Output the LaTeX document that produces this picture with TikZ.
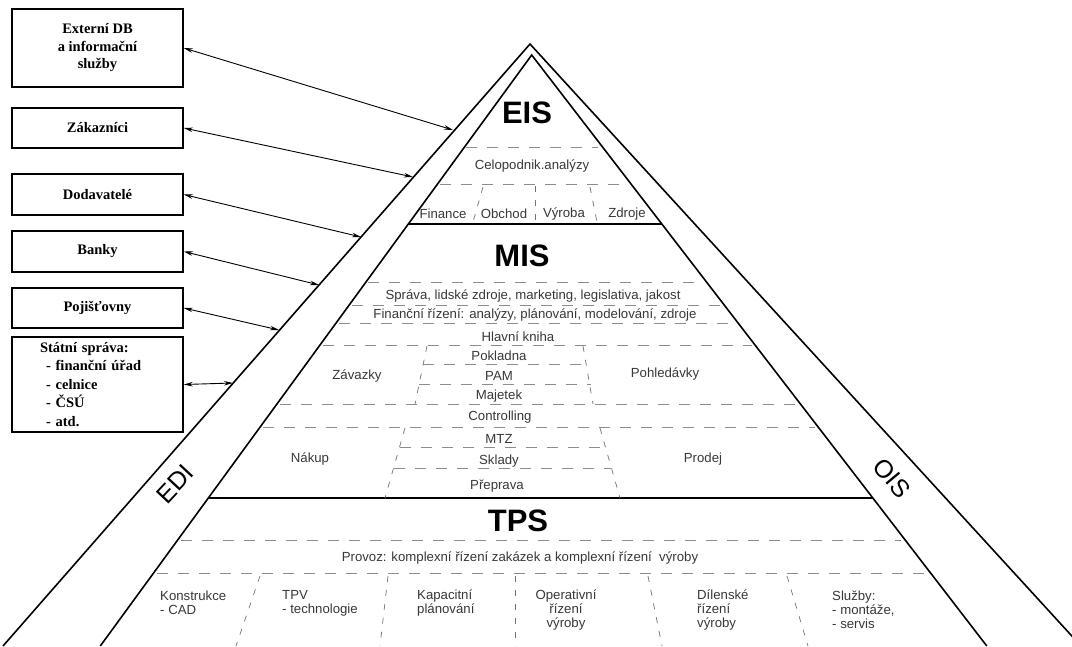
\documentclass[tikz,border=0pt]{standalone}
\usepackage{fontspec}
\setmainfont{Liberation Sans}
\newfontfamily\serifbx{Liberation Serif}
\usetikzlibrary{arrows.meta}
\begin{document}
\begin{tikzpicture}[x=1pt,y=-1pt,
  edge/.style={line width=1.6pt,black},
  sepline/.style={line width=1.8pt,black},
  dsh/.style={black!45,line width=0.8pt,dash pattern=on 11pt off 10pt},
  dsep/.style={black!55,line width=0.7pt,dash pattern=on 6pt off 8pt},
  lbl/.style={font=\fontsize{13.2}{14}\selectfont,text=black!78,inner sep=0pt},
  head/.style={font=\fontsize{31}{31}\selectfont\bfseries,inner sep=0pt},
  side/.style={font=\fontsize{25}{25}\selectfont,inner sep=0pt},
  bx/.style={draw,line width=1.5pt,minimum width=171pt,font=\serifbx\bfseries\fontsize{14.5}{17.5}\selectfont,align=center,inner sep=2pt},
  link/.style={line width=0.9pt,{Stealth[length=9pt,width=4.5pt]}-{Stealth[length=9pt,width=4.5pt]}}
]
\useasboundingbox (0,0) rectangle (1072,646);
\fill[white] (0,0) rectangle (1072,646);

% pyramid outlines
\coordinate (A) at (530,44);
\coordinate (OL) at (3,646);
\coordinate (OR) at (1081,646);
\coordinate (B) at (531.7,55);
\coordinate (IL) at (100.3,646);
\coordinate (IR) at (986.8,646);
\draw[edge] (OL) -- (A) -- (OR);
\draw[edge] (IL) -- (B) -- (IR);

% section lines
\draw[sepline] (408.3,224) -- (661.8,224);
\draw[sepline] (208.3,498) -- (872.8,498);

% EIS dashed
\draw[dsh] (466,147) -- (598,147);
\draw[dsh] (440,184) -- (628,184);
\draw[dsep] (483,187) -- (473,222);
\draw[dsep] (535,186) -- (535,222);
\draw[dsep] (590,187) -- (597,222);

% MIS dashed
\draw[dsh] (368,282) -- (703,282);
\draw[dsh] (352,305) -- (721,305);
\draw[dsh] (339,323) -- (735,323);
\draw[dsh] (323,345) -- (752,345);
\draw[dsh] (423,364) -- (587,364);
\draw[dsh] (419,384) -- (591,384);
\draw[dsh] (280,404) -- (797,404);
\draw[dsh] (263,427) -- (815,427);
\draw[dsh] (400,447) -- (605,447);
\draw[dsh] (394,468) -- (611,468);
\draw[dsep] (427,346) -- (415,404);
\draw[dsep] (583,346) -- (593,404);
\draw[dsep] (405,428) -- (385,498);
\draw[dsep] (600,428) -- (620,498);

% TPS dashed
\draw[dsh] (181,540) -- (901,540);
\draw[dsh] (157,573) -- (927,573);
\draw[dsep] (260,576) -- (236,646);
\draw[dsep] (388,576) -- (380,646);
\draw[dsep] (515,576) -- (515,646);
\draw[dsep] (648,576) -- (662,646);
\draw[dsep] (787,576) -- (808,646);

% headings
\node[head] (eis) at (527,113) {EIS};
\node[head] (mis) at (522,256) {MIS};
\node[head] (tps) at (518,521) {TPS};
\node[side,rotate=47] (edi) at (175,484) {EDI};
\node[side,rotate=-50] (ois) at (892,478) {OIS};

% EIS labels
\node[lbl] (celo) at (532,166) {Celopodnik.analýzy};
\node[lbl] (fin) at (443,214) {Finance};
\node[lbl] (obch) at (504,214) {Obchod};
\node[lbl] (vyr) at (564,214) {Výroba};
\node[lbl] (zdr) at (627,214) {Zdroje};

% MIS labels
\node[lbl] (sprava) at (533,296) {Správa, lidské zdroje, marketing, legislativa, jakost};
\node[lbl] (finr) at (535,315) {Finanční řízení: analýzy, plánování, modelování, zdroje};
\node[lbl] (hk) at (518,337) {Hlavní kniha};
\node[lbl] (pokl) at (499,356) {Pokladna};
\node[lbl] (zav) at (357,376) {Závazky};
\node[lbl] (pam) at (499,376) {PAM};
\node[lbl] (pohl) at (665,374) {Pohledávky};
\node[lbl] (maj) at (499,396) {Majetek};
\node[lbl] (contr) at (500,417) {Controlling};
\node[lbl] (mtz) at (499,439) {MTZ};
\node[lbl] (nak) at (310,459) {Nákup};
\node[lbl] (skl) at (499,461) {Sklady};
\node[lbl] (prod) at (703,459) {Prodej};
\node[lbl] (prep) at (497,486) {Přeprava};

% TPS labels
\node[lbl] (provoz) at (520,558) {Provoz: komplexní řízení zakázek a komplexní řízení \ výroby};
\node[lbl,align=left,anchor=west] (kons) at (160,603) {Konstrukce\\- CAD};
\node[lbl,align=left,anchor=west] (tpv) at (282,603) {TPV\\- technologie};
\node[lbl,align=left,anchor=west] (kap) at (417,603) {Kapacitní\\plánování};
\node[lbl,align=center] (oper) at (566,610) {Operativní\\řízení\\výroby};
\node[lbl,align=left,anchor=west] (dil) at (697,610) {Dílenské\\řízení\\výroby};
\node[lbl,align=left,anchor=west] (sluz) at (832,610) {Služby:\\- montáže,\\- servis};

% external boxes
\node[bx,minimum height=78pt] (b1) at (97.5,48) {Externí DB\\a informační\\služby};
\node[bx,minimum height=40pt] (b2) at (97.5,128) {Zákazníci};
\node[bx,minimum height=41pt] (b3) at (97.5,194.5) {Dodavatelé};
\node[bx,minimum height=41pt] (b4) at (97.5,251.5) {Banky};
\node[bx,minimum height=40pt] (b5) at (97.5,308) {Pojišťovny};
\node[bx,minimum height=95pt,align=left,text width=115pt,inner xsep=28pt,font=\serifbx\bfseries\fontsize{14.5}{18.5}\selectfont] (b6) at (97.5,384.5)
  {Státní správa:\\\hspace{6pt}- finanční úřad\\\hspace{6pt}- celnice\\\hspace{6pt}- ČSÚ\\\hspace{6pt}- atd.};

% arrow end points on the pyramid edge
\coordinate (p1) at (453,130);
\coordinate (p2) at (413,177);
\coordinate (p3) at (361,237);
\coordinate (p4) at (319,285);
\coordinate (p5) at (279,330);
\coordinate (p6) at (233,383);
\draw[link] (b1.east) -- (p1);
\draw[link] (b2.east) -- (p2);
\draw[link] (b3.east) -- (p3);
\draw[link] (b4.east) -- (p4);
\draw[link] (b5.east) -- (p5);
\draw[link] (b6.east) -- (p6);
\end{tikzpicture}
\end{document}
